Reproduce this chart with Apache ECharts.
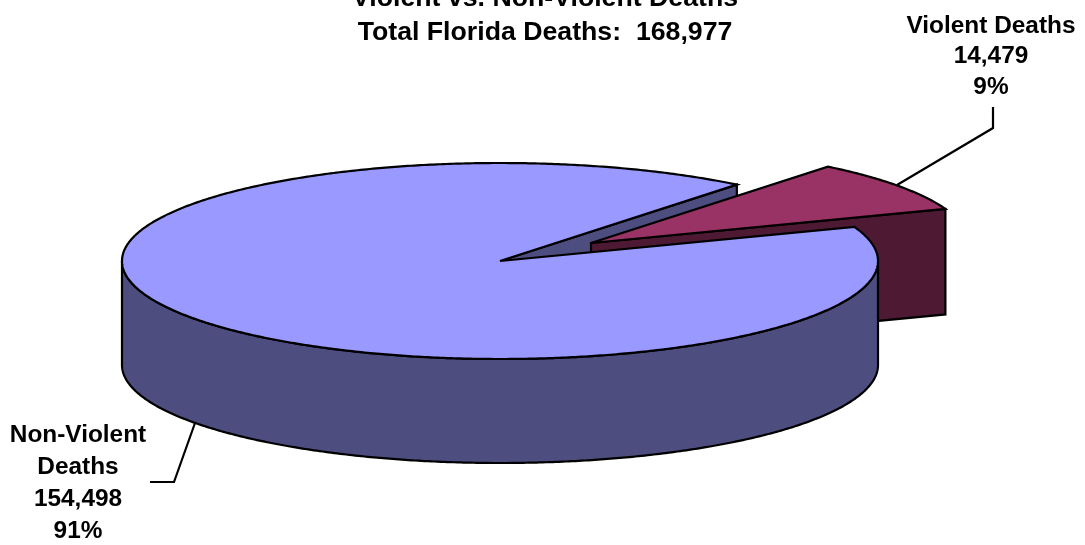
<!DOCTYPE html>
<html>
<head>
<meta charset="utf-8">
<style>html,body{margin:0;padding:0;background:#fff}#c{width:1085px;height:545px}</style>
<script src="https://cdn.jsdelivr.net/npm/echarts@6/dist/echarts.min.js"></script>
</head>
<body>
<div id="c"></div>
<script>
var titleLines = ['Violent vs. Non-Violent Deaths', 'Total Florida Deaths:  168,977'];
var categories = ['Violent Deaths', 'Non-Violent Deaths'];
var categoryLabels = ['Violent Deaths', 'Non-Violent\nDeaths'];
var values = [14479, 154498];
var sliceTop = ['#993366', '#9999FF'];
var sliceWall = ['#4D1933', '#4D4D80'];

var FONT = '"Liberation Sans", Arial, sans-serif';
var CX = 500, CY = 261, RX = 378, RY = 98;
var DEPTHS = [105.5, 104];
var FIRST_ANGLE = 51.2;            // where the big slice starts, counter-clockwise
var EXPLODE = [[91, -18], [0, 0]]; // pull-out per slice
var LABEL_POS = [[991, 11], [78, 419]];
var LEADERS = [[[993, 107], [993, 128], [897, 185]], [[150, 482], [174, 482], [195, 423]]];
var STROKE = 2.2;

var total = values[0] + values[1];
var span = values.map(function (v) { return v / total * 360; });
// violent slice ends at FIRST_ANGLE; big slice wraps round from there
var ranges = [
  [FIRST_ANGLE - span[0], FIRST_ANGLE],
  [FIRST_ANGLE, FIRST_ANGLE + span[1]]
];

function pt(i, deg, down) {
  var a = deg * Math.PI / 180;
  return [CX + EXPLODE[i][0] + RX * Math.cos(a),
          CY + EXPLODE[i][1] - RY * Math.sin(a) + (down ? DEPTHS[i] : 0)];
}
function apex(i, down) {
  return [CX + EXPLODE[i][0], CY + EXPLODE[i][1] + (down ? DEPTHS[i] : 0)];
}
function arc(i, from, to, down) {
  var out = [], n = Math.ceil(Math.abs(to - from) / 0.5);
  for (var k = 0; k <= n; k++) out.push(pt(i, from + (to - from) * k / n, down));
  return out;
}
function poly(points, fill) {
  return { type: 'polygon', shape: { points: points },
    style: { fill: fill, stroke: '#000', lineWidth: STROKE, lineJoin: 'miter', miterLimit: 4 } };
}
function line(points) {
  return { type: 'polyline', shape: { points: points },
    style: { fill: 'none', stroke: '#000', lineWidth: STROKE } };
}
function text(x, y, str, size, lh) {
  return { type: 'text', x: x, y: y,
    style: { text: str, fill: '#000', font: 'bold ' + size + 'px ' + FONT,
      align: 'center', verticalAlign: 'top', lineHeight: lh } };
}
function fmt(v) { return String(v).replace(/\B(?=(\d{3})+$)/g, ','); }

function renderItem(params, api) {
  var i = params.dataIndex, kids = [];
  if (i === 0) {
    // inner cut wall of the big slice shows through the gap: it sits behind the pulled-out slice
    kids.push(poly([apex(1), pt(1, ranges[1][0]), pt(1, ranges[1][0], true), apex(1, true)], sliceWall[1]));
    // leader lies under the slice
    kids.push(line(LEADERS[0]));
    // cut face of the pulled-out slice
    kids.push(poly([apex(0), pt(0, ranges[0][0]), pt(0, ranges[0][0], true), apex(0, true)], sliceWall[0]));
    kids.push(poly([apex(0)].concat(arc(0, ranges[0][0], ranges[0][1])), sliceTop[0]));
  } else {
    // curved front wall
    kids.push(poly(arc(1, 180, 360).concat(arc(1, 360, 180, true)), sliceWall[1]));
    kids.push(poly([apex(1)].concat(arc(1, ranges[1][0], ranges[1][1])), sliceTop[1]));
    kids.push(line(LEADERS[1]));
  }
  var pct = Math.round(api.value(0) / total * 100) + '%';
  kids.push(text(LABEL_POS[i][0], LABEL_POS[i][1],
    categoryLabels[i] + '\n' + fmt(api.value(0)) + '\n' + pct, 24.4, i === 0 ? 30.5 : 32));
  return { type: 'group', children: kids };
}

var chart = echarts.init(document.getElementById('c'), null, { renderer: 'canvas' });
chart.setOption({
  animation: false,
  backgroundColor: '#fff',
  graphic: [
    { type: 'text', x: 545, y: -15, style: { text: titleLines[0], fill: '#000', font: 'bold 26.7px ' + FONT, align: 'center', verticalAlign: 'top' } },
    { type: 'text', x: 545, y: 19, style: { text: titleLines[1], fill: '#000', font: 'bold 26.7px ' + FONT, align: 'center', verticalAlign: 'top' } }
  ],
  series: [{
    type: 'custom',
    coordinateSystem: 'none',
    silent: true,
    clip: false,
    renderItem: renderItem,
    encode: { value: 0 },
    data: values.map(function (v, i) { return { name: categories[i], value: [v] }; })
  }]
});
</script>
</body>
</html>
